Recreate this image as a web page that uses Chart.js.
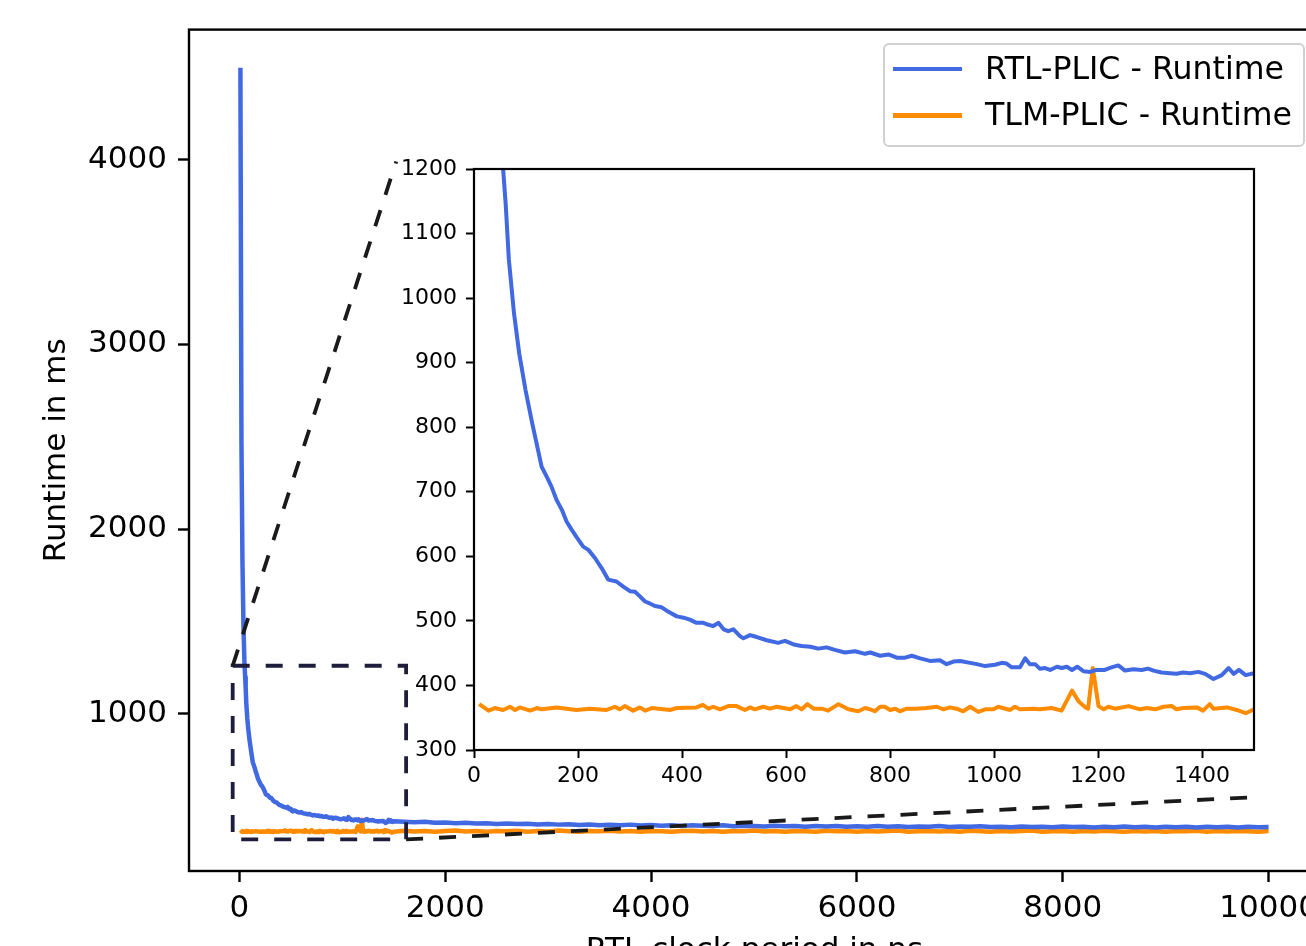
<!DOCTYPE html>
<html>
<head>
<meta charset="utf-8">
<title>RTL vs TLM PLIC runtime</title>
<script src="https://cdn.jsdelivr.net/npm/chart.js@4.4.0/dist/chart.umd.min.js"></script>
<style>
  html, body { margin: 0; padding: 0; background: #fff; overflow: hidden; }
  #wrap { position: relative; width: 1306px; height: 946px; overflow: hidden; background: #fff; }
  #mainChart { position: absolute; left: 0; top: 0; }
  #insetChart { position: absolute; left: 380px; top: 140px; }
  #legend {
    position: absolute; left: 883px; top: 43px; width: 418px; height: 100px;
    border: 2px solid #d0d0d0; border-radius: 6px; background: rgba(255,255,255,0.85);
    font-family: 'DejaVu Sans', sans-serif; font-size: 31.6px; color: #000;
  }
  .swatch { position: absolute; left: 8px; width: 69px; height: 4.5px; }
  .label { position: absolute; left: 100px; white-space: nowrap; line-height: 1; }
</style>
</head>
<body>
<div id="wrap">
  <canvas id="mainChart" width="1340" height="980"></canvas>
  <canvas id="insetChart" width="900" height="660"></canvas>
  <div id="legend"></div>
</div>
<script>
// RTL-PLIC runtime (x in ns, y in ms)
const rtlX = [10, 20, 30, 40, 50, 56, 61, 67, 77, 87, 99, 112, 119, 130, 140, 149, 159, 169, 178, 188,
  197, 210, 220, 233, 246, 258, 274, 287, 300, 310, 319, 329, 338, 348, 361, 374, 390, 403, 415, 428,
  441, 451, 460, 470, 480, 489, 499, 512, 518, 531, 544, 563, 585, 598, 617, 630, 647, 662, 678, 694,
  713, 733, 752, 762, 781, 797, 813, 829, 842, 858, 877, 896, 909, 922, 935, 954, 967, 983, 1002, 1015,
  1024, 1034, 1050, 1060, 1069, 1079, 1088, 1098, 1108, 1121, 1130, 1140, 1150, 1160, 1172, 1185, 1197, 1213, 1226, 1239,
  1252, 1268, 1284, 1296, 1307, 1322, 1338, 1351, 1364, 1377, 1393, 1406, 1422, 1438, 1451, 1461, 1471, 1484, 1500];
const rtlY = [4497, 2480, 1820, 1470, 1265, 1200, 1145, 1060, 976, 914, 858, 806, 780, 739, 723, 708, 687, 672, 654, 641,
  630, 615, 610, 597, 581, 564, 561, 553, 546, 545, 538, 530, 527, 523, 521, 514, 507, 505, 502, 497,
  497, 494, 492, 497, 487, 484, 487, 476, 473, 478, 475, 470, 466, 469, 463, 461, 460, 457, 459, 455,
  451, 453, 449, 451, 446, 448, 443, 443, 446, 442, 438, 439, 433, 437, 438, 435, 433, 430, 432, 435,
  434, 428, 428, 442, 433, 433, 426, 427, 424, 429, 427, 429, 424, 429, 422, 421, 424, 424, 428, 431,
  423, 425, 424, 426, 423, 420, 419, 418, 420, 419, 421, 418, 410, 416, 427, 418, 424, 416, 419];

// TLM-PLIC runtime
const tlmX = [10, 28, 40, 56, 69, 79, 88, 108, 121, 130, 159, 197, 223, 255, 271, 280, 290, 306, 319, 329,
  342, 377, 390, 428, 440, 451, 460, 473, 489, 505, 521, 531, 540, 556, 569, 582, 608, 620, 630, 641,
  653, 669, 681, 701, 720, 739, 752, 762, 771, 781, 790, 800, 810, 819, 832, 851, 870, 890, 903, 915,
  928, 941, 954, 970, 983, 999, 1008, 1031, 1040, 1050, 1076, 1088, 1111, 1130, 1150, 1163, 1176, 1181, 1190, 1201,
  1211, 1220, 1233, 1259, 1281, 1294, 1310, 1326, 1342, 1351, 1364, 1390, 1402, 1415, 1422, 1448, 1467, 1484, 1500];
const tlmY = [371, 361, 365, 362, 367, 362, 366, 361, 365, 363, 366, 362, 364, 362, 367, 363, 368, 361, 366, 361,
  365, 362, 365, 366, 370, 364, 367, 363, 368, 368, 362, 366, 363, 367, 364, 367, 363, 368, 363, 371,
  364, 364, 361, 371, 363, 360, 365, 363, 360, 367, 367, 362, 364, 360, 364, 364, 365, 367, 363, 366,
  364, 360, 367, 359, 363, 363, 367, 362, 367, 363, 364, 363, 365, 361, 392, 375, 366, 364, 427, 368,
  363, 367, 364, 368, 363, 365, 363, 367, 368, 363, 365, 366, 361, 371, 364, 366, 362, 357, 363];

// rest of the sweep, only shown in the main axes
const tailX = [1600, 1700, 1800, 1900, 2000, 2100, 2200, 2300, 2400, 2500, 2600, 2700, 2800, 2900, 3000, 3100, 3200,
  3300, 3400, 3500, 3600, 3700, 3800, 3900, 4000, 4100, 4200, 4300, 4400, 4500, 4600, 4700, 4800, 4900, 5000,
  5100, 5200, 5300, 5400, 5500, 5600, 5700, 5800, 5900, 6000, 6100, 6200, 6300, 6400, 6500, 6600, 6700, 6800,
  6900, 7000, 7100, 7200, 7300, 7400, 7500, 7600, 7700, 7800, 7900, 8000, 8100, 8200, 8300, 8400, 8500, 8600,
  8700, 8800, 8900, 9000, 9100, 9200, 9300, 9400, 9500, 9600, 9700, 9800, 9900, 10000];
const rtlTail = [417, 414, 416, 411, 412, 409, 411, 407, 408, 405,
  407, 404, 406, 402, 404, 401, 403, 399, 402, 398,
  400, 397, 401, 396, 399, 395, 398, 394, 397, 395,
  393, 397, 392, 395, 393, 391, 395, 392, 394, 390,
  393, 391, 394, 390, 392, 389, 393, 390, 392, 388,
  391, 389, 393, 388, 391, 389, 392, 388, 390, 387,
  391, 388, 390, 387, 391, 388, 390, 386, 389, 387,
  391, 387, 389, 386, 390, 387, 389, 386, 390, 387,
  389, 386, 389, 387, 388];
const tlmTail = [368, 364, 367, 363, 366, 369, 364, 366, 362, 367,
  365, 368, 363, 366, 364, 369, 365, 362, 367, 365,
  368, 364, 366, 363, 367, 365, 362, 366, 368, 364,
  366, 363, 367, 365, 369, 364, 366, 362, 367, 365,
  363, 368, 365, 366, 362, 367, 364, 366, 369, 363,
  365, 367, 364, 366, 362, 368, 365, 363, 367, 364,
  366, 369, 363, 365, 367, 362, 366, 364, 368, 365,
  363, 367, 364, 366, 362, 367, 365, 368, 363, 366,
  364, 367, 365, 363, 366];

const mainXTicks = [0, 2000, 4000, 6000, 8000, 10000];
const mainYTicks = [1000, 2000, 3000, 4000];
const insetXTicks = [0, 200, 400, 600, 800, 1000, 1200, 1400];
const insetYTicks = [300, 400, 500, 600, 700, 800, 900, 1000, 1100, 1200];

const seriesNames = ['RTL-PLIC - Runtime', 'TLM-PLIC - Runtime'];
const seriesColors = ['#4169e1', '#ff8c00'];

// zoom marker (in main data units)
const zoomBox = { x0: -65, x1: 1620, y0: 321, y1: 1261 };
const connectors = [
  [[-65, 1261], [1524, 3990]],
  [[1620, 321], [9875, 550]]
];

Chart.defaults.font.family = "'DejaVu Sans', sans-serif";
Chart.defaults.color = '#000';

function pts(xs, ys) {
  return xs.map((x, i) => ({ x: x, y: ys[i] }));
}

function fixedTicks(list) {
  return scale => { scale.ticks = list.map(v => ({ value: v })); };
}

const framePlugin = {
  id: 'frame',
  beforeDraw(chart) {
    const a = chart.chartArea;
    const ctx = chart.ctx;
    ctx.save();
    ctx.fillStyle = '#fff';
    ctx.fillRect(a.left, a.top, a.right - a.left, a.bottom - a.top);
    ctx.restore();
  },
  afterDraw(chart) {
    const a = chart.chartArea;
    const ctx = chart.ctx;
    ctx.save();
    ctx.strokeStyle = '#000';
    ctx.lineWidth = chart.canvas.id === 'mainChart' ? 2.4 : 2.2;
    ctx.strokeRect(a.left, a.top, a.right - a.left, a.bottom - a.top);
    ctx.restore();
  }
};

const zoomPlugin = {
  id: 'zoomMarks',
  afterDatasetsDraw(chart) {
    const { ctx, scales: { x, y } } = chart;
    ctx.save();
    ctx.lineWidth = 3.8;
    ctx.setLineDash([17, 16]);
    ctx.strokeStyle = '#1e1e3c';
    const l = x.getPixelForValue(zoomBox.x0), r = x.getPixelForValue(zoomBox.x1);
    const t = y.getPixelForValue(zoomBox.y1), b = y.getPixelForValue(zoomBox.y0);
    ctx.strokeRect(l, t, r - l, b - t);
    ctx.strokeStyle = '#1a1a1a';
    connectors.forEach(c => {
      ctx.beginPath();
      ctx.moveTo(x.getPixelForValue(c[0][0]), y.getPixelForValue(c[0][1]));
      ctx.lineTo(x.getPixelForValue(c[1][0]), y.getPixelForValue(c[1][1]));
      ctx.stroke();
    });
    ctx.restore();
  }
};

function lineSet(i, data, width) {
  return {
    label: seriesNames[i],
    data: data,
    borderColor: seriesColors[i],
    backgroundColor: seriesColors[i],
    borderWidth: width,
    borderJoinStyle: 'round',
    pointRadius: 0,
    tension: 0,
    fill: false
  };
}

function tickGrid(len, w) {
  return { drawOnChartArea: false, drawTicks: true, tickLength: len, tickWidth: w, tickColor: '#000' };
}

// main axes
new Chart(document.getElementById('mainChart'), {
  type: 'line',
  data: {
    datasets: [
      lineSet(0, pts(rtlX.concat(tailX), rtlY.concat(rtlTail)), 4.5),
      lineSet(1, pts(tlmX.concat(tailX), tlmY.concat(tlmTail)), 4.5)
    ]
  },
  options: {
    responsive: false,
    animation: false,
    devicePixelRatio: 1,
    layout: { padding: { left: 0, top: 27, right: 20, bottom: 0 } },
    plugins: { legend: { display: false }, tooltip: { enabled: false } },
    scales: {
      x: {
        type: 'linear',
        min: -489.5,
        max: 10499.5,
        afterBuildTicks: fixedTicks(mainXTicks),
        afterFit: s => { s.height = 109; },
        grid: tickGrid(11, 2.4),
        border: { display: false },
        ticks: { font: { size: 31 }, padding: 8, autoSkip: false, maxRotation: 0, callback: v => String(v) },
        title: { display: true, text: 'RTL clock period in ns', font: { size: 31 }, padding: { top: 0, bottom: 10 } }
      },
      y: {
        type: 'linear',
        min: 150,
        max: 4704,
        afterBuildTicks: fixedTicks(mainYTicks),
        afterFit: s => { s.width = 189; },
        grid: tickGrid(11, 2.4),
        border: { display: false },
        ticks: { font: { size: 31 }, padding: 11, autoSkip: false, callback: v => String(v) },
        title: { display: true, text: 'Runtime in ms', font: { size: 31 }, padding: { top: 38, bottom: 0 } }
      }
    }
  },
  plugins: [framePlugin, zoomPlugin]
});

// inset axes (zoom on the first 1500 ns)
new Chart(document.getElementById('insetChart'), {
  type: 'line',
  data: {
    datasets: [
      lineSet(0, pts(rtlX, rtlY), 4),
      lineSet(1, pts(tlmX, tlmY), 4)
    ]
  },
  options: {
    responsive: false,
    animation: false,
    devicePixelRatio: 1,
    layout: { padding: { left: 0, top: 29, right: 26, bottom: 0 } },
    plugins: { legend: { display: false }, tooltip: { enabled: false } },
    scales: {
      x: {
        type: 'linear',
        min: 0,
        max: 1500,
        afterBuildTicks: fixedTicks(insetXTicks),
        afterFit: s => { s.height = 50; },
        grid: tickGrid(8, 2),
        border: { display: false },
        ticks: { font: { size: 22 }, padding: 5, autoSkip: false, maxRotation: 0, callback: v => String(v) }
      },
      y: {
        type: 'linear',
        min: 300,
        max: 1200,
        afterBuildTicks: fixedTicks(insetYTicks),
        afterFit: s => { s.width = 94; },
        grid: tickGrid(8, 2),
        border: { display: false },
        ticks: { font: { size: 22 }, padding: 9, autoSkip: false, callback: v => String(v) }
      }
    }
  },
  plugins: [framePlugin]
});

// legend box
const legend = document.getElementById('legend');
seriesNames.forEach((name, i) => {
  const sw = document.createElement('div');
  sw.className = 'swatch';
  sw.style.top = (21.75 + i * 46.7) + 'px';
  sw.style.background = seriesColors[i];
  legend.appendChild(sw);
  const lb = document.createElement('span');
  lb.className = 'label';
  lb.style.top = (8 + i * 46.4) + 'px';
  lb.textContent = name;
  legend.appendChild(lb);
});
</script>
</body>
</html>
